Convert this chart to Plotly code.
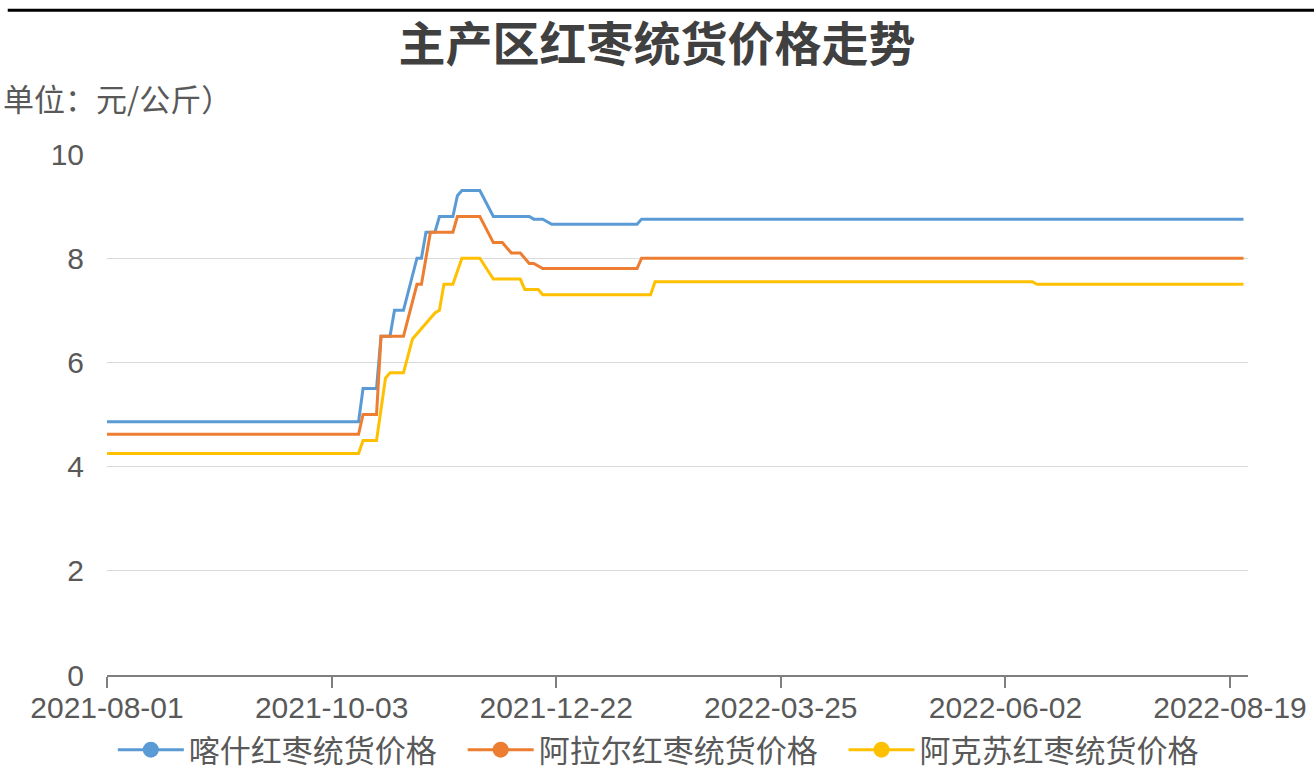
import plotly.graph_objects as go

# category positions of the x axis (one step per quoted day), tick labels every 50 quotes
TICK_POS = [0, 50, 100, 150, 200, 250]
TICK_TEXT = ["2021-08-01", "2021-10-03", "2021-12-22", "2022-03-25", "2022-06-02", "2022-08-19"]

SERIES_NAMES = ["喀什红枣统货价格", "阿拉尔红枣统货价格", "阿克苏红枣统货价格"]

# change points (position, 元/公斤)
KASHI_X = [0, 56, 57, 60, 61, 63, 64, 66, 69, 70, 71, 73, 74, 77, 78, 79, 83, 86, 94, 95, 97, 99, 118, 119, 253]
KASHI_Y = [4.86, 4.86, 5.5, 5.5, 6.5, 6.5, 7.0, 7.0, 8.0, 8.0, 8.5, 8.5, 8.8, 8.8, 9.2, 9.3, 9.3, 8.8, 8.8, 8.75, 8.75, 8.65, 8.65, 8.75, 8.75]

ALAER_X = [0, 56, 57, 60, 61, 66, 69, 70, 72, 77, 78, 83, 86, 88, 90, 92, 94, 95, 97, 118, 119, 253]
ALAER_Y = [4.62, 4.62, 5.0, 5.0, 6.5, 6.5, 7.5, 7.5, 8.5, 8.5, 8.8, 8.8, 8.3, 8.3, 8.1, 8.1, 7.9, 7.9, 7.8, 7.8, 8.0, 8.0]

AKESU_X = [0, 56, 57, 60, 62, 63, 66, 68, 73, 74, 75, 77, 79, 83, 86, 92, 93, 96, 97, 121, 122, 206, 207, 253]
AKESU_Y = [4.25, 4.25, 4.5, 4.5, 5.7, 5.8, 5.8, 6.45, 6.95, 7.0, 7.5, 7.5, 8.0, 8.0, 7.6, 7.6, 7.4, 7.4, 7.3, 7.3, 7.55, 7.55, 7.5, 7.5]

COLORS = ["#5b9bd5", "#ed7d31", "#ffc000"]
TEXT_GRAY = "#595959"

fig = go.Figure()
for name, xs, ys, color in zip(
    SERIES_NAMES,
    [KASHI_X, ALAER_X, AKESU_X],
    [KASHI_Y, ALAER_Y, AKESU_Y],
    COLORS,
):
    fig.add_trace(go.Scatter(
        x=xs, y=ys, mode="lines", name=name,
        line=dict(color=color, width=3),
        showlegend=False,
    ))
    # legend-only entry with the round marker
    fig.add_trace(go.Scatter(
        x=[None], y=[None], mode="lines+markers", name=name + "\u00a0\u00a0\u00a0",
        line=dict(color=color, width=3),
        marker=dict(color=color, size=16),
    ))

fig.update_xaxes(
    range=[0, 254],
    tickvals=TICK_POS,
    ticktext=TICK_TEXT,
    showgrid=False,
    showline=True,
    linecolor="#7f7f7f",
    linewidth=2,
    ticks="outside",
    ticklen=11,
    tickwidth=2,
    tickcolor="#7f7f7f",
    ticklabelstandoff=-6,
    tickfont=dict(family="Liberation Sans", size=30, color=TEXT_GRAY),
    zeroline=False,
    automargin=False,
)
fig.update_yaxes(
    range=[0, 10],
    tickvals=[0, 2, 4, 6, 8, 10],
    showgrid=True,
    gridcolor="#d9d9d9",
    gridwidth=1,
    showline=False,
    zeroline=False,
    ticks="",
    ticklabelstandoff=22,
    tickfont=dict(family="Liberation Sans", size=30, color=TEXT_GRAY),
    automargin=False,
)

fig.update_layout(
    width=1314,
    height=776,
    paper_bgcolor="white",
    plot_bgcolor="white",
    margin=dict(l=107, r=66, t=154, b=101),
    title=dict(
        text="<b>主产区红枣统货价格走势</b>",
        x=0.5, xanchor="center",
        y=1 - 45 / 776, yanchor="middle",
        font=dict(family="Noto Sans CJK SC", size=47, color="#404040"),
    ),
    legend=dict(
        orientation="h",
        xref="container", x=0.509, xanchor="center",
        yref="container", y=26 / 776, yanchor="middle",
        font=dict(family="Noto Sans CJK SC", size=31, color=TEXT_GRAY),
        itemwidth=66,
        bgcolor="rgba(0,0,0,0)",
    ),
    annotations=[dict(
        text="单位：元/公斤）",
        xref="paper", yref="paper",
        x=-106 / 1141, xanchor="left",
        y=1.109, yanchor="middle",
        showarrow=False,
        font=dict(family="Noto Sans CJK SC", size=31, color=TEXT_GRAY),
    )],
    shapes=[dict(
        type="line", xref="paper", yref="paper",
        x0=-0.087, x1=1.06, y0=1.276, y1=1.276,
        line=dict(color="black", width=3),
    )],
)

fig.write_html(
    "out.html",
    config={"displayModeBar": False},
    post_script="document.body.style.margin='0';",
)
